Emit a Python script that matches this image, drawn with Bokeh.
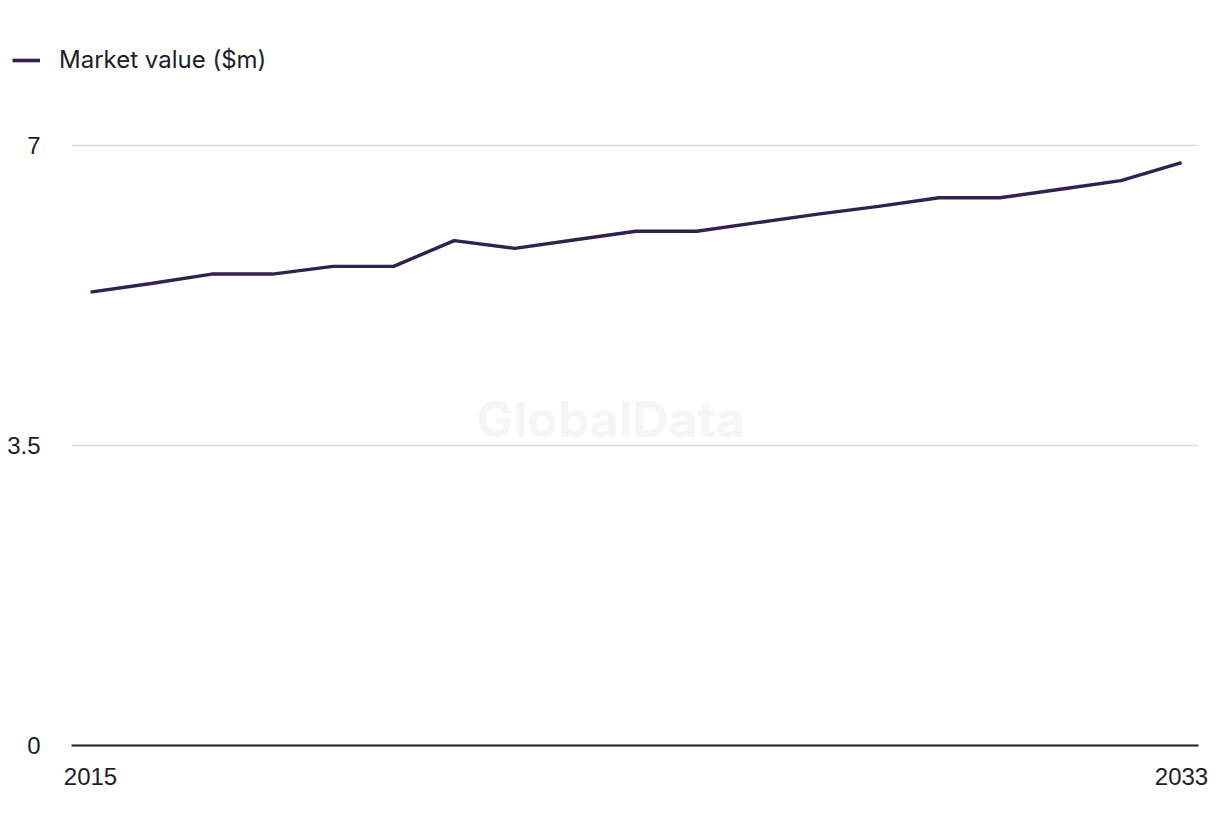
from bokeh.plotting import figure
from bokeh.layouts import column
from bokeh.models import Range1d, FixedTicker, Legend, LegendItem, Label
from bokeh.embed import file_html
from bokeh.resources import INLINE

years = list(range(2015, 2034))
market_value = [5.29, 5.39, 5.50, 5.50, 5.59, 5.59, 5.89, 5.80, 5.90, 6.00,
                6.00, 6.10, 6.20, 6.29, 6.39, 6.39, 6.49, 6.59, 6.80]
series_name = "Market value ($m)"
y_ticks = [0, 3.5, 7]
y_tick_labels = ["0", "3.5", "7"]
x_ticks = [2015, 2033]
x_tick_labels = ["2015", "2033"]

LINE = "#34204f"
TEXT = "#1c1c2b"
FONT = "Liberation Sans"

# ---- legend strip on top (the series is drawn out of view; only its legend shows) ----
top = figure(width=1220, height=100, output_backend="svg", toolbar_location=None,
             x_range=Range1d(0, 1), y_range=Range1d(0, 1),
             x_axis_type=None, y_axis_type=None,
             min_border_left=0, min_border_right=0, min_border_top=0,
             min_border_bottom=0)
try:
    top.frame_align = False
except Exception:
    pass
top.outline_line_color = None
top.xgrid.grid_line_color = None
top.ygrid.grid_line_color = None
legend_r = top.line(years, market_value, line_color=LINE, line_width=3.6)
legend = Legend(items=[LegendItem(label=series_name, renderers=[legend_r])],
                location=(12, 26), padding=0, margin=0, spacing=0,
                glyph_width=28, glyph_height=24, label_height=24,
                label_standoff=19, label_text_font_size="24px",
                label_text_font="Inter", label_text_color=TEXT,
                border_line_color=None, background_fill_alpha=0)
top.add_layout(legend, "center")

# ---- main chart ----
p = figure(width=1220, height=736, output_backend="svg", toolbar_location=None,
           x_range=Range1d(2014.686, 2033.28), y_range=Range1d(0, 7.2917),
           min_border_left=71, min_border_right=22, min_border_top=20,
           min_border_bottom=91)
try:
    p.frame_align = False
except Exception:
    pass
p.outline_line_color = None
p.background_fill_color = "white"

p.line(years, market_value, line_color=LINE, line_width=3.4)

# Watermark
p.add_layout(Label(x=2023.58, y=3.815, text="GlobalData", text_align="center",
                   text_baseline="middle", text_font_size="50px",
                   text_font_style="bold", text_font="Inter",
                   text_color="#f5f5f5", level="underlay"))

p.yaxis.ticker = FixedTicker(ticks=y_ticks)
p.yaxis.major_label_overrides = {t: l for t, l in zip(y_ticks, y_tick_labels)}
p.yaxis.axis_line_color = None
p.yaxis.major_tick_line_color = None
p.yaxis.minor_tick_line_color = None
p.yaxis.major_label_standoff = 25
p.yaxis.major_label_text_font_size = "24px"
p.yaxis.major_label_text_font = FONT
p.yaxis.major_label_text_color = TEXT

p.xaxis.ticker = FixedTicker(ticks=x_ticks)
p.xaxis.major_label_overrides = {t: l for t, l in zip(x_ticks, x_tick_labels)}
p.xaxis.axis_line_color = TEXT
p.xaxis.axis_line_width = 2
p.xaxis.major_tick_line_color = None
p.xaxis.minor_tick_line_color = None
p.xaxis.major_label_standoff = 16
p.xaxis.major_label_text_font_size = "24px"
p.xaxis.major_label_text_font = FONT
p.xaxis.major_label_text_color = TEXT

p.xgrid.grid_line_color = None
p.ygrid.ticker = FixedTicker(ticks=[3.5, 7])
p.ygrid.grid_line_color = "#d9d9d9"
p.ygrid.grid_line_width = 1.5

layout = column(top, p, spacing=0)
open("out.html", "w").write(file_html(layout, INLINE))
